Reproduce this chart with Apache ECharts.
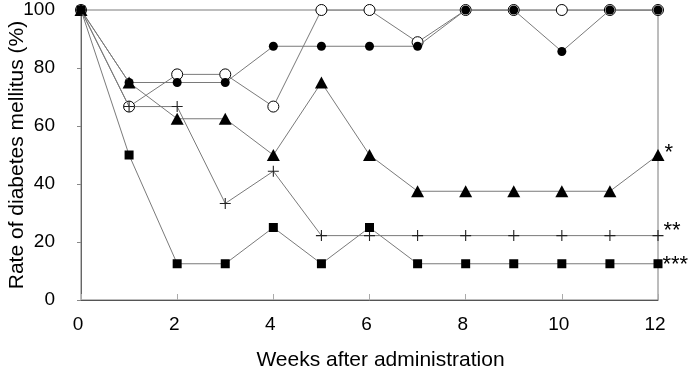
<!DOCTYPE html>
<html>
<head>
<meta charset="utf-8">
<script src="https://cdn.jsdelivr.net/npm/echarts@6/dist/echarts.min.js"></script>
<style>
  html, body { margin: 0; padding: 0; background: #fff; }
  #chart { width: 694px; height: 371px; }
</style>
</head>
<body>
<div id="chart"></div>
<script>
// weeks after administration
var weeks = [0, 1, 2, 3, 4, 5, 6, 7, 8, 9, 10, 11, 12];

// rate of diabetes mellitus (%) per group
var openCircle   = [100, 66.7, 77.8, 77.8, 66.7, 100, 100, 88.9, 100, 100, 100, 100, 100];
var filledCircle = [100, 75, 75, 75, 87.5, 87.5, 87.5, 87.5, 100, 100, 85.7, 100, 100];
var triangle     = [100, 75, 62.5, 62.5, 50, 75, 50, 37.5, 37.5, 37.5, 37.5, 37.5, 50];
var plusMark     = [100, 66.7, 66.7, 33.3, 44.4, 22.2, 22.2, 22.2, 22.2, 22.2, 22.2, 22.2, 22.2];
var square       = [100, 50, 12.5, 12.5, 25, 12.5, 25, 12.5, 12.5, 12.5, 12.5, 12.5, 12.5];

// significance marks at the last week
var signif = ['', '', '*', '**', '***'];

var FONT = '"Liberation Sans", Arial, sans-serif';
var PLUS = 'path://M0,4.5L10,4.5L10,5.5L0,5.5Z M4.5,0L5.5,0L5.5,10L4.5,10Z';

function pairs(values) {
  return weeks.map(function (w, i) { return [w, values[i]]; });
}

function makeSeries(values, idx, symbol, size, fill, border, labelOffset) {
  return {
    type: 'line',
    data: pairs(values),
    symbol: symbol,
    symbolSize: size,
    showAllSymbol: true,
    z: 2 + idx,
    lineStyle: { color: '#7a7a7a', width: 1 },
    itemStyle: { color: fill, borderColor: border, borderWidth: border === 'none' ? 0 : 1, opacity: 1 },
    label: {
      show: signif[idx] !== '',
      position: 'right',
      distance: 0,
      offset: labelOffset || [0, 0],
      fontFamily: FONT,
      fontSize: 22,
      color: '#000',
      formatter: function (p) {
        return p.dataIndex === weeks.length - 1 ? signif[idx] : '';
      }
    },
    emphasis: { disabled: true },
    animation: false
  };
}

var chart = echarts.init(document.getElementById('chart'));
chart.setOption({
  animation: false,
  grid: {
    left: 81, right: 36, top: 10, bottom: 71,
    outerBoundsMode: 'none',
    show: true, borderColor: '#7a7a7a', borderWidth: 1, backgroundColor: 'transparent'
  },
  xAxis: {
    type: 'value',
    min: 0, max: 12, interval: 2,
    name: 'Weeks after administration',
    nameLocation: 'middle',
    nameGap: 50,
    nameMoveOverlap: false,
    nameTextStyle: { fontFamily: FONT, fontSize: 21, color: '#000', padding: [0, 0, 0, 22] },
    axisLine: { show: true, onZero: false, lineStyle: { color: '#555', width: 1 } },
    axisTick: { show: true, inside: true, length: 6, lineStyle: { color: '#aaa' } },
    axisLabel: { fontFamily: FONT, fontSize: 19, color: '#000', margin: 15, padding: [0, 6, 0, 0] },
    splitLine: { show: false }
  },
  yAxis: {
    type: 'value',
    min: 0, max: 100, interval: 20,
    name: 'Rate of diabetes mellitus (%)',
    nameLocation: 'middle',
    nameGap: 53,
    nameMoveOverlap: false,
    nameTextStyle: { fontFamily: FONT, fontSize: 21, color: '#000' },
    axisLine: { show: true, lineStyle: { color: '#666', width: 1 } },
    axisTick: { show: true, inside: false, length: 4, lineStyle: { color: '#888' } },
    axisLabel: { fontFamily: FONT, fontSize: 19, color: '#000', margin: 26 },
    splitLine: { show: false }
  },
  series: [
    makeSeries(openCircle, 0, 'circle', 11, '#fff', '#000'),
    makeSeries(filledCircle, 1, 'circle', 9, '#000', 'none'),
    makeSeries(triangle, 2, 'triangle', [13, 12], '#000', 'none', [0, -2]),
    makeSeries(plusMark, 3, PLUS, 11, '#222', 'none', [0, -5]),
    makeSeries(square, 4, 'rect', 9, '#000', 'none', [0, 1])
  ]
});
</script>
</body>
</html>
